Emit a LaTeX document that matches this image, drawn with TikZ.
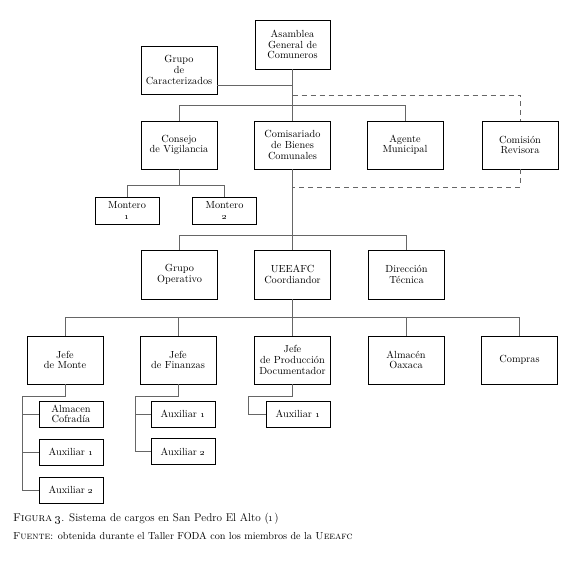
\documentclass[tikz,border=0pt]{standalone}
\begin{document}
\begin{tikzpicture}[x=1pt,y=-1pt,
  box/.style={draw=black,line width=0.9pt,minimum width=76pt,minimum height=48pt,align=center,inner sep=1pt,font=\fontsize{10.3}{10.6}\selectfont},
  sbox/.style={draw=black,line width=0.9pt,minimum width=64pt,minimum height=26pt,align=center,inner sep=1pt,font=\fontsize{10.3}{10.6}\selectfont},
  conn/.style={draw=black!60,line width=0.7pt},
  dconn/.style={conn,dashed,dash pattern=on 5pt off 4pt}]
\useasboundingbox (0,0) rectangle (580,564);
% row 0
\node[box,minimum width=75pt,minimum height=49pt] (asam) at (292.5,44.5) {Asamblea\\General de\\Comuneros};
\node[box] (grupo) at (179,70) {Grupo\\de\\Caracterizados};
% row 1
\node[box] (consejo) at (179,145) {Consejo\\de Vigilancia};
\node[box] (comis) at (292.5,145) {Comisariado\\de Bienes\\Comunales};
\node[box] (agente) at (405,145) {Agente\\Municipal};
\node[box] (revisora) at (520,145) {Comisión\\Revisora};
% monteros
\node[sbox,minimum height=27pt] (mont1) at (127,210.5) {Montero\\\oldstylenums{1}};
\node[sbox,minimum height=27pt] (mont2) at (224.5,210.5) {Montero\\\oldstylenums{2}};
% row 2
\node[box,minimum height=49pt] (grupoop) at (179.5,274.5) {Grupo\\Operativo};
\node[box,minimum height=49pt] (ueeafc) at (292.5,274.5) {UEEAFC\\Coordiandor};
\node[box,minimum height=49pt] (direc) at (406.5,274.5) {Dirección\\Técnica};
% row 3
\node[box] (jmonte) at (65,360) {Jefe\\de Monte};
\node[box] (jfin) at (178,360) {Jefe\\de Finanzas};
\node[box] (jprod) at (292.5,360) {Jefe\\de Producción\\Documentador};
\node[box] (almo) at (406,360) {Almacén\\Oaxaca};
\node[box] (compras) at (519.5,360) {Compras};
% sub boxes
\node[sbox] (cof) at (71,414) {Almacen\\Cofradía};
\node[sbox] (mA1) at (71,452) {Auxiliar \oldstylenums{1}};
\node[sbox] (mA2) at (71,490) {Auxiliar \oldstylenums{2}};
\node[sbox] (fA1) at (183,414) {Auxiliar \oldstylenums{1}};
\node[sbox] (fA2) at (183,451.5) {Auxiliar \oldstylenums{2}};
\node[sbox] (pA1) at (298,414) {Auxiliar \oldstylenums{1}};
% captions
\node[anchor=west,inner sep=0pt,font=\fontsize{11.2}{13}\selectfont] (cap1) at (13,519) {\textsc{Figura} \oldstylenums{3}. Sistema de cargos en San Pedro El Alto (\oldstylenums{1})};
\node[anchor=west,inner sep=0pt,font=\fontsize{10.2}{12}\selectfont] (cap2) at (13,536) {\textsc{Fuente}: obtenida durante el Taller FODA con los miembros de la \textsc{Ueeafc}};
% coordinates
\coordinate (d1) at (292.5,95);
\coordinate (d2) at (292.5,187);
\coordinate (g1) at (217,85);
\coordinate (mb) at (22,396);
\coordinate (fb) at (135,396);
\coordinate (pb) at (248,396);
% connectors
\draw[conn] (asam.south) -- (comis.north);
\draw[conn] (g1) -- (g1 -| asam.south);
\draw[conn] (consejo.north) -- ++(0,-15) -| (agente.north);
\draw[dconn] (d1) -| (revisora.north);
\draw[dconn] (revisora.south) |- (d2);
\draw[conn] (consejo.south) -- ++(0,17);
\draw[conn] (mont1.north) -- ++(0,-11) -| (mont2.north);
\draw[conn] (comis.south) -- (ueeafc.north);
\draw[conn] (grupoop.north) -- ++(0,-14) -| (direc.north);
\draw[conn] (jmonte.north) -- ++(0,-18) -| (compras.north);
\draw[conn] (ueeafc.south) -- (jprod.north);
\draw[conn] (jfin.north) -- ++(0,-18);
\draw[conn] (almo.north) -- ++(0,-18);
\draw[conn] (jmonte.south) |- (mb) |- (mA2.west);
\draw[conn] (cof.west) -- (cof.west -| mb);
\draw[conn] (mA1.west) -- (mA1.west -| mb);
\draw[conn] (jfin.south) |- (fb) |- (fA2.west);
\draw[conn] (fA1.west) -- (fA1.west -| fb);
\draw[conn] (jprod.south) |- (pb) |- (pA1.west);
\end{tikzpicture}
\end{document}
